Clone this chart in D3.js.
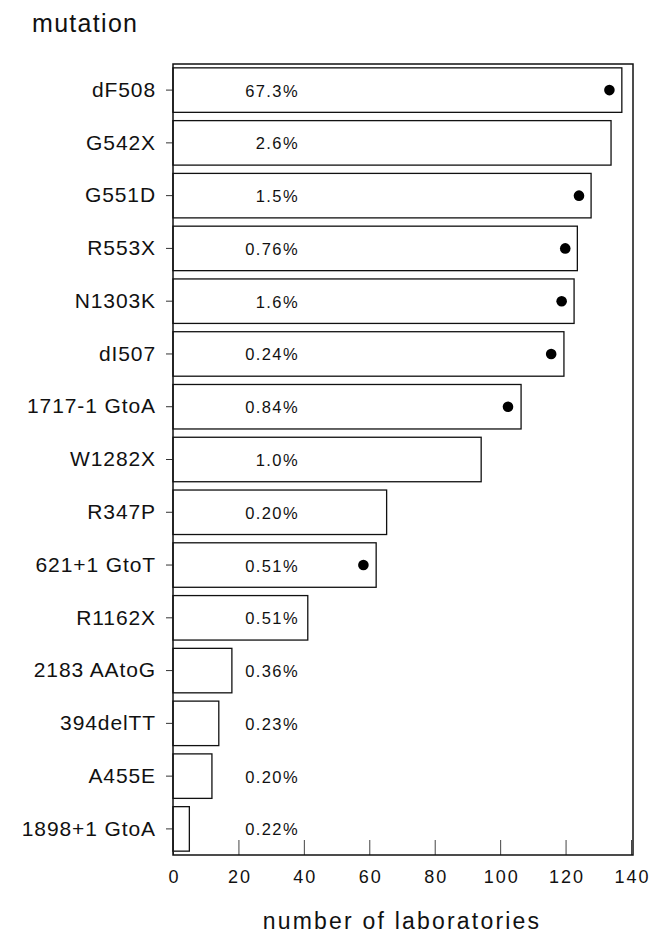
<html>
  <head>
    <meta charset="utf-8">
    <title>mutation</title>
    <style>
      body { margin: 0; background: #fff; }
      text { font-family: "Liberation Sans", Arial, sans-serif; fill: #111; }
    </style>
    <script src="https://d3js.org/d3.v7.min.js"></script>
  </head>
  <body>
    <script>
      // data
      var mutations = ["dF508", "G542X", "G551D", "R553X", "N1303K", "dI507", "1717-1 GtoA",
                       "W1282X", "R347P", "621+1 GtoT", "R1162X", "2183 AAtoG", "394delTT",
                       "A455E", "1898+1 GtoA"];
      var labs = [137.2, 133.9, 127.8, 123.6, 122.6, 119.5, 106.4, 94.2, 65.3, 62.1, 41.2, 18, 14, 11.9, 5];
      var dots = [133.4, null, 124.1, 119.9, 118.8, 115.6, 102.4, null, null, 58.2, null, null, null, null, null];
      var freq = ["67.3%", "2.6%", "1.5%", "0.76%", "1.6%", "0.24%", "0.84%", "1.0%", "0.20%",
                  "0.51%", "0.51%", "0.36%", "0.23%", "0.20%", "0.22%"];
      var xTicks = [0, 20, 40, 60, 80, 100, 120, 140];

      var width = 653, height = 938;
      var svg = d3.select("body").append("svg")
            .attr("width", width)
            .attr("height", height);

      var x = d3.scaleLinear().domain([0, 140]).range([173, 631]);
      var y = d3.scaleBand().domain(mutations).range([64, 855])
            .paddingInner(0.157).paddingOuter(0.073);

      // bars
      svg.append("g").selectAll("rect")
        .data(mutations)
        .enter()
        .append("rect")
        .attr("x", x(0))
        .attr("y", d => y(d))
        .attr("width", (d, i) => x(labs[i]) - x(0))
        .attr("height", y.bandwidth())
        .attr("fill", "#fff")
        .attr("stroke", "#111")
        .attr("stroke-width", 1.3);

      // percent labels
      svg.append("g").selectAll("text")
        .data(mutations)
        .enter()
        .append("text")
        .attr("x", 299)
        .attr("y", d => y(d) + y.bandwidth() / 2 + 6.5)
        .attr("text-anchor", "end")
        .attr("font-size", "16.5px")
        .attr("letter-spacing", "1.4px")
        .text((d, i) => freq[i]);

      // dots
      svg.append("g").selectAll("circle")
        .data(mutations.filter((d, i) => dots[i] != null))
        .enter()
        .append("circle")
        .attr("cx", d => x(dots[mutations.indexOf(d)]))
        .attr("cy", d => y(d) + y.bandwidth() / 2)
        .attr("r", 5.3)
        .attr("fill", "#000");

      // y axis
      var yAxis = svg.append("g")
        .attr("transform", "translate(" + x(0) + ",0)")
        .call(d3.axisLeft(y).tickSize(7).tickPadding(10));
      yAxis.select(".domain").remove();
      yAxis.selectAll("text")
        .attr("font-size", "21px")
        .attr("letter-spacing", "0.9px")
        .attr("font-family", "Liberation Sans, Arial, sans-serif")
        .attr("fill", "#111");
      yAxis.selectAll("line").attr("stroke", "#333");

      // x axis, ticks pointing inward
      var xAxis = svg.append("g")
        .attr("transform", "translate(0,855)")
        .call(d3.axisBottom(x).tickValues(xTicks).tickSize(-15).tickPadding(15));
      xAxis.select(".domain").remove();
      xAxis.selectAll("line").attr("stroke", "#444");
      xAxis.selectAll("text")
        .attr("font-size", "18px")
        .attr("letter-spacing", "2px")
        .attr("dx", "1px")
        .attr("font-family", "Liberation Sans, Arial, sans-serif")
        .attr("fill", "#111");

      // frame
      svg.append("rect")
        .attr("x", 173)
        .attr("y", 64)
        .attr("width", 633 - 173)
        .attr("height", 855 - 64)
        .attr("fill", "none")
        .attr("stroke", "#111")
        .attr("stroke-width", 1.5);

      svg.append("text")
        .text("mutation")
        .attr("x", 32)
        .attr("y", 32)
        .attr("font-size", "25px")
        .attr("letter-spacing", "1.3px");

      svg.append("text")
        .text("number of laboratories")
        .attr("x", 402)
        .attr("y", 929)
        .attr("text-anchor", "middle")
        .attr("font-size", "23px")
        .attr("letter-spacing", "2.2px");
    </script>
  </body>
</html>
